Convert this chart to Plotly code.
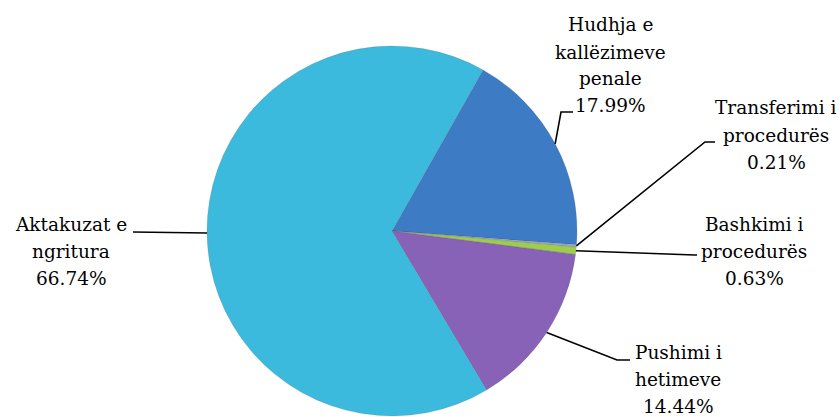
import math
import plotly.graph_objects as go

# ---- data ----
categories = [["Hudhja e", "kallëzimeve", "penale"],
              ["Transferimi i", "procedurës"],
              ["Bashkimi i", "procedurës"],
              ["Pushimi i", "hetimeve"],
              ["Aktakuzat e", "ngritura"]]
values = [17.99, 0.21, 0.63, 14.44, 66.74]
value_labels = ["17.99%", "0.21%", "0.63%", "14.44%", "66.74%"]

# ---- style ----
colors = ["#3d7cc4", "#9aa9bb", "#9fcd4a", "#8762b6", "#3cbade"]
W, H = 840, 417
CX, CY, R = 392, 231, 185
ROTATION = 29.5
FONT = dict(family="DejaVu Serif", size=18.5, color="#000000")
LINE_GAP = 27

# label layout per slice: (elbow x, elbow y, end x, text center x, first line center y)
label_layout = [
    (561, 112, 573, 610, 25),
    (705, 142, 715, 776, 108),
    (695, 255, 697, 754, 224),
    (617, 360, 630, 678, 352),
    (133, 232, 133, 71, 224),
]


def px(x):
    return x / W


def py(y):
    return 1 - y / H


fig = go.Figure(go.Pie(
    labels=[" ".join(c) for c in categories],
    values=values,
    sort=False,
    direction="clockwise",
    rotation=ROTATION,
    marker=dict(colors=colors, line=dict(color="rgba(60,60,60,0.25)", width=0.6)),
    textinfo="none",
    hoverinfo="label+percent",
    showlegend=False,
    domain=dict(x=[px(CX - R), px(CX + R)], y=[py(CY + R), py(CY - R)]),
))

total = sum(values)
cum = 0.0
shapes = []
annotations = []
for i, v in enumerate(values):
    mid = ROTATION + (cum + v / 2) / total * 360
    cum += v
    a = math.radians(mid)
    sx = CX + R * math.sin(a)
    sy = CY - R * math.cos(a)
    ex, ey, endx, tx, ty = label_layout[i]
    path = f"M {px(sx)} {py(sy)} L {px(ex)} {py(ey)} L {px(endx)} {py(ey)}"
    shapes.append(dict(type="path", xref="paper", yref="paper", path=path,
                       line=dict(color="black", width=1.6)))
    lines = categories[i] + [value_labels[i]]
    for k, line in enumerate(lines):
        annotations.append(dict(
            x=px(tx), y=py(ty + k * LINE_GAP), xref="paper", yref="paper",
            text=line, showarrow=False, font=FONT, align="center",
            xanchor="center", yanchor="middle",
        ))

fig.update_layout(
    width=W, height=H,
    margin=dict(l=0, r=0, t=0, b=0),
    paper_bgcolor="white",
    plot_bgcolor="white",
    font=FONT,
    shapes=shapes,
    annotations=annotations,
)

fig.write_html("out.html", config={"displayModeBar": False},
               post_script="document.body.style.margin='0';")
